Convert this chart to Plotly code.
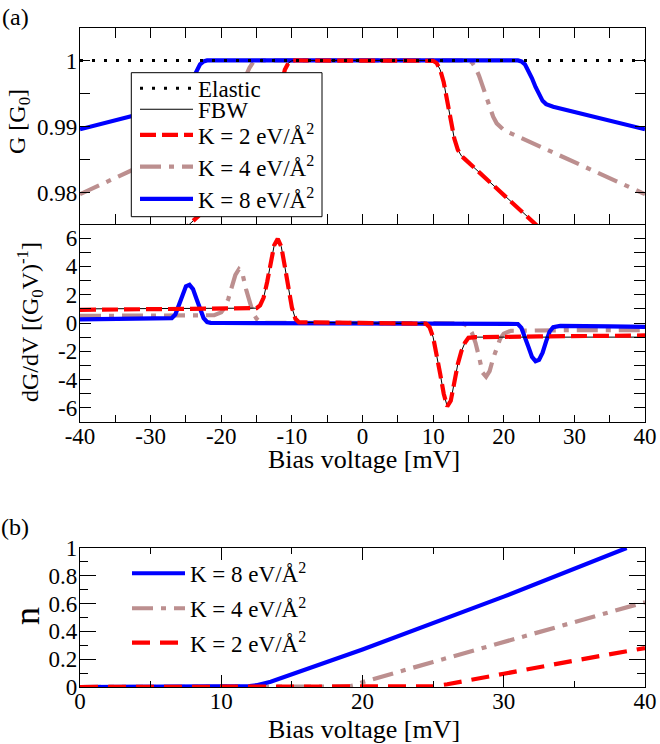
import plotly.graph_objects as go

FW, FH = 660, 744

# ---------------- panel (a), top: G [G0] vs bias ----------------
elastic_v = [-40, 40]
elastic_g = [1.0, 1.0]

k2_v = [-40, -24.4, -15, -14.5, -14, -13.5, -13, -12.5, -12, -11.5, -11, -10.5, -10, -9.5,
        9.5, 10, 10.5, 11, 11.5, 12, 12.5, 13, 13.5, 14, 14.5, 15, 24.4, 40]
k2_g = [0.9600, 0.9754, 0.9846, 0.9851, 0.9856, 0.9865, 0.9882, 0.9912, 0.9939, 0.9967, 0.9986, 0.9996, 0.99995, 1.0,
        1.0, 0.99995, 0.9996, 0.9986, 0.9967, 0.9939, 0.9912, 0.9882, 0.9865, 0.9856, 0.9851, 0.9846, 0.9754, 0.9600]

fbw_v = [-40, -24.4, -15, -14.5, -14, -13.5, -13, -12.5, -12, -11.5, -11, -10.5, -10, -9.5,
         9.5, 10, 10.5, 11, 11.5, 12, 12.5, 13, 13.5, 14, 14.5, 15, 24.4, 40]
fbw_g = [0.9600, 0.9754, 0.9846, 0.9851, 0.9856, 0.9865, 0.9882, 0.9912, 0.9939, 0.9967, 0.9986, 0.9996, 0.99995, 1.0,
         1.0, 0.99995, 0.9996, 0.9986, 0.9967, 0.9939, 0.9912, 0.9882, 0.9865, 0.9856, 0.9851, 0.9846, 0.9754, 0.9600]

k4_v = [-40, -21, -20, -19.5, -19, -18.5, -18, -17.5, -17, -16.5, -16, -15.5, -15,
        15, 15.5, 16, 16.5, 17, 17.5, 18, 18.5, 19, 19.5, 20, 21, 40]
k4_g = [0.9798, 0.9890, 0.9895, 0.9899, 0.9905, 0.9915, 0.9928, 0.9945, 0.9962, 0.9977, 0.9989, 0.9997, 1.0,
        1.0, 0.9997, 0.9989, 0.9977, 0.9962, 0.9945, 0.9928, 0.9915, 0.9905, 0.9899, 0.9895, 0.9890, 0.9798]

k8_v = [-40, -27, -26, -25.5, -25, -24.5, -24, -23.5, -23, -22.5, -22,
        22, 22.5, 23, 23.5, 24, 24.5, 25, 25.5, 26, 27, 40]
k8_g = [0.9896, 0.9930, 0.9934, 0.9939, 0.9948, 0.9960, 0.9973, 0.9985, 0.9994, 0.99985, 1.0,
        1.0, 0.99985, 0.9994, 0.9985, 0.9973, 0.9960, 0.9948, 0.9939, 0.9934, 0.9930, 0.9896]

# ---------------- panel (a), middle: dG/dV ----------------
fbw_dv = [-40, -16, -15, -14.5, -14, -13.5, -13, -12.5, -12, -11.5, -11, -10.5, -10, -9.5, -9,
          9, 9.5, 10, 10.5, 11, 11.5, 12, 12.5, 13, 13.5, 14, 14.5, 15, 16, 40]
fbw_d = [1.0, 1.0, 1.05, 1.25, 1.8, 2.9, 4.3, 5.5, 5.95, 5.4, 4.0, 2.4, 1.1, 0.3, 0.05,
         -0.05, -0.3, -1.0, -2.2, -3.6, -5.0, -5.9, -5.5, -4.1, -2.9, -2.0, -1.4, -1.05, -1.0, -1.0]

k2_dv = [-40, -25, -16, -15, -14.5, -14, -13.5, -13, -12.5, -12, -11.5, -11, -10.5, -10, -9.5, -9,
         9, 9.5, 10, 10.5, 11, 11.5, 12, 12.5, 13, 13.5, 14, 14.5, 15, 16, 25, 40]
k2_d = [0.93, 0.97, 1.0, 1.05, 1.25, 1.8, 2.9, 4.3, 5.5, 5.95, 5.4, 4.0, 2.4, 1.1, 0.3, 0.05,
        -0.05, -0.3, -1.0, -2.2, -3.6, -5.0, -5.9, -5.5, -4.1, -2.9, -2.0, -1.4, -1.05, -1.0, -0.95, -0.88]

k4_dv = [-40, -30, -21, -20, -19.5, -19, -18.5, -18, -17.5, -17, -16.5, -16, -15.5, -15, -14.5, -14,
         14, 14.5, 15, 15.5, 16, 16.5, 17, 17.5, 18, 18.5, 19, 19.5, 20, 21, 30, 40]
k4_d = [0.5, 0.5, 0.55, 0.75, 1.1, 1.7, 2.5, 3.4, 3.8, 3.5, 2.4, 1.4, 0.7, 0.3, 0.1, 0.02,
        -0.02, -0.1, -0.3, -0.7, -1.4, -2.4, -3.5, -3.8, -3.4, -2.5, -1.7, -1.1, -0.75, -0.55, -0.5, -0.5]

k8_dv = [-40, -30, -28, -27, -26.5, -26, -25.5, -25, -24.5, -24, -23.5, -23, -22.5, -22, -21.5, -20,
         20, 21.5, 22, 22.5, 23, 23.5, 24, 24.5, 25, 25.5, 26, 26.5, 27, 28, 35, 40]
k8_d = [0.26, 0.28, 0.30, 0.35, 0.6, 1.3, 2.1, 2.6, 2.7, 2.4, 1.7, 0.95, 0.35, 0.07, 0.01, 0.0,
        0.0, -0.01, -0.07, -0.35, -0.95, -1.7, -2.4, -2.7, -2.6, -2.1, -1.3, -0.6, -0.3, -0.2, -0.24, -0.28]

# ---------------- panel (b): n vs bias ----------------
n8_v = [0, 11, 11.5, 12, 12.5, 13, 13.5, 14, 15, 20, 30, 38.7]
n8 = [0, 0, 0.002, 0.006, 0.013, 0.024, 0.038, 0.055, 0.09, 0.27, 0.65, 1.0]
n4_v = [0, 18.5, 19, 19.5, 20, 25, 30, 35, 40]
n4 = [0, 0, 0.004, 0.015, 0.035, 0.18, 0.325, 0.47, 0.61]
n2_v = [0, 24.5, 25, 26, 27, 30, 35, 40]
n2 = [0, 0, 0.005, 0.02, 0.04, 0.095, 0.19, 0.28]

# tick labels
g_ticks = [0.98, 0.99, 1.0]
g_ticktext = ["0.98", "0.99", "1"]
d_ticks = [-6, -4, -2, 0, 2, 4, 6]
d_ticktext = ["-6", "-4", "-2", "0", "2", "4", "6"]
v_ticks = [-40, -30, -20, -10, 0, 10, 20, 30, 40]
v_ticktext = ["-40", "-30", "-20", "-10", "0", "10", "20", "30", "40"]

lab_k2 = "K = 2 eV/Å<sup>2</sup>"
lab_k4 = "K = 4 eV/Å<sup>2</sup>"
lab_k8 = "K = 8 eV/Å<sup>2</sup>"

RED = "#FF0000"
BLUE = "#0000FF"
BROWN = "#BC8F8F"
FONT = "Liberation Serif"
LW = 4.2

red_dash = "16px,6px"
brown_dash = "21px,8px,5px,8px"
dot_dash = "3px,9px"


def px_x(p):
    return p / FW


def px_y(p):
    return 1 - p / FH


fig = go.Figure()

# --- top panel traces ---
fig.add_trace(go.Scatter(x=k4_v, y=k4_g, mode="lines", name=lab_k4, legend="legend4",
                         line=dict(color=BROWN, width=LW, dash=brown_dash), xaxis="x", yaxis="y"))
fig.add_trace(go.Scatter(x=k8_v, y=k8_g, mode="lines", name=lab_k8, legend="legend5",
                         line=dict(color=BLUE, width=LW), xaxis="x", yaxis="y"))
fig.add_trace(go.Scatter(x=fbw_v, y=fbw_g, mode="lines", name="FBW", legend="legend2",
                         line=dict(color="black", width=1), xaxis="x", yaxis="y"))
fig.add_trace(go.Scatter(x=k2_v, y=k2_g, mode="lines", name=lab_k2, legend="legend3",
                         line=dict(color=RED, width=LW, dash=red_dash), xaxis="x", yaxis="y"))
fig.add_trace(go.Scatter(x=elastic_v, y=elastic_g, mode="lines", name="Elastic", legend="legend",
                         line=dict(color="black", width=3, dash=dot_dash), xaxis="x", yaxis="y"))

# --- middle panel traces ---
fig.add_trace(go.Scatter(x=k4_dv, y=k4_d, mode="lines", showlegend=False,
                         line=dict(color=BROWN, width=LW, dash=brown_dash), xaxis="x2", yaxis="y2"))
fig.add_trace(go.Scatter(x=k8_dv, y=k8_d, mode="lines", showlegend=False,
                         line=dict(color=BLUE, width=LW), xaxis="x2", yaxis="y2"))
fig.add_trace(go.Scatter(x=fbw_dv, y=fbw_d, mode="lines", showlegend=False,
                         line=dict(color="black", width=1), xaxis="x2", yaxis="y2"))
fig.add_trace(go.Scatter(x=k2_dv, y=k2_d, mode="lines", showlegend=False,
                         line=dict(color=RED, width=LW, dash=red_dash), xaxis="x2", yaxis="y2"))

# --- bottom panel traces ---
fig.add_trace(go.Scatter(x=n4_v, y=n4, mode="lines", name=lab_k4, legend="legend7",
                         line=dict(color=BROWN, width=LW, dash=brown_dash), xaxis="x3", yaxis="y3"))
fig.add_trace(go.Scatter(x=n8_v, y=n8, mode="lines", name=lab_k8, legend="legend6",
                         line=dict(color=BLUE, width=LW), xaxis="x3", yaxis="y3"))
fig.add_trace(go.Scatter(x=n2_v, y=n2, mode="lines", name=lab_k2, legend="legend8",
                         line=dict(color=RED, width=LW, dash="18px,10px"), xaxis="x3", yaxis="y3"))

dom_x = [px_x(80), px_x(645)]
tick_font = dict(family=FONT, size=23, color="black")
axis_common = dict(showline=True, linecolor="black", linewidth=1.3, ticks="inside",
                   tickcolor="black", tickwidth=1, showgrid=False, zeroline=False,
                   tickfont=tick_font, automargin=False)

fig.update_layout(
    width=FW, height=FH, margin=dict(l=0, r=0, t=0, b=0),
    paper_bgcolor="white", plot_bgcolor="white",
    font=dict(family=FONT, size=22, color="black"),
    xaxis=dict(domain=dom_x, anchor="y", range=[-40, 40], tickmode="array", tickvals=v_ticks,
               showticklabels=False, ticklen=10, mirror="ticks",
               minor=dict(dtick=5, tick0=0, ticklen=10, ticks="inside", tickcolor="black"), **axis_common),
    yaxis=dict(domain=[px_y(224), px_y(28)], anchor="x", range=[0.9753, 1.0049], tickmode="array",
               tickvals=g_ticks, ticktext=g_ticktext, ticklen=10, mirror="ticks", ticklabelstandoff=-3,
               minor=dict(dtick=0.005, tick0=0, ticklen=10, ticks="inside", tickcolor="black"), **axis_common),
    xaxis2=dict(domain=dom_x, anchor="y2", range=[-40, 40], tickmode="array", tickvals=v_ticks,
                ticktext=v_ticktext, ticklen=7, mirror=False, ticklabelstandoff=-7,
                minor=dict(dtick=5, tick0=0, ticklen=7, ticks="inside", tickcolor="black"), **axis_common),
    yaxis2=dict(domain=[px_y(422), px_y(224)], anchor="x2", range=[-7, 7], tickmode="array",
                tickvals=d_ticks, ticktext=d_ticktext, ticklen=11, mirror="ticks", ticklabelstandoff=-3,
                minor=dict(dtick=1, tick0=0, ticklen=11, ticks="inside", tickcolor="black"), **axis_common),
    xaxis3=dict(domain=dom_x, anchor="y3", range=[0, 40], dtick=10, ticklen=12, mirror="ticks",
                ticklabelstandoff=-7,
                minor=dict(dtick=5, tick0=0, ticklen=6, ticks="inside", tickcolor="black"), **axis_common),
    yaxis3=dict(domain=[px_y(687), px_y(548)], anchor="x3", range=[0, 1], dtick=0.2, ticklen=16,
                mirror="ticks", ticklabelstandoff=-3,
                minor=dict(dtick=0.1, tick0=0, ticklen=8, ticks="inside", tickcolor="black"), **axis_common),
)

# one legend per entry so each entry sits where the reference puts it
legend_pos = {
    "legend": (135, 88.3), "legend2": (135, 109.3), "legend3": (135, 135),
    "legend4": (135, 166.7), "legend5": (135, 199),
    "legend6": (127, 573.3), "legend7": (127, 608.3), "legend8": (127, 642.7),
}
for key, (lx, ly) in legend_pos.items():
    fig.update_layout({key: dict(x=px_x(lx), y=px_y(ly), xanchor="left", yanchor="middle",
                                 bgcolor="rgba(0,0,0,0)", borderwidth=0, itemwidth=53,
                                 font=dict(family=FONT, size=23, color="black"))})

# white legend frame of panel (a)
fig.add_shape(type="rect", xref="paper", yref="paper", x0=px_x(131.3), x1=px_x(322),
              y0=px_y(216.7), y1=px_y(72.7), fillcolor="white", line=dict(color="black", width=1),
              layer="above")

annotations = [
    dict(text="(a)", x=px_x(15), y=px_y(17), font=dict(size=24)),
    dict(text="(b)", x=px_x(15), y=px_y(527), font=dict(size=24)),
    dict(text="G [G<sub>0</sub>]", x=px_x(19), y=px_y(122), textangle=-90, font=dict(size=24)),
    dict(text="dG/dV [(G<sub>0</sub>V)<sup>-1</sup>]", x=px_x(30), y=px_y(322), textangle=-90, font=dict(size=24)),
    dict(text="n", x=px_x(27), y=px_y(616), textangle=-90, font=dict(size=36)),
    dict(text="Bias voltage [mV]", x=px_x(364), y=px_y(459), font=dict(size=26)),
    dict(text="Bias voltage [mV]", x=px_x(364), y=px_y(729), font=dict(size=26)),
]
for a in annotations:
    a.update(xref="paper", yref="paper", xanchor="center", yanchor="middle", showarrow=False)
    a["font"].update(family=FONT, color="black")
fig.update_layout(annotations=annotations)

# remove the default 8px page margin so the figure fills the 660x744 window exactly
fig.write_html("out.html", config={"displayModeBar": False},
               post_script="document.body.style.margin='0px';")
